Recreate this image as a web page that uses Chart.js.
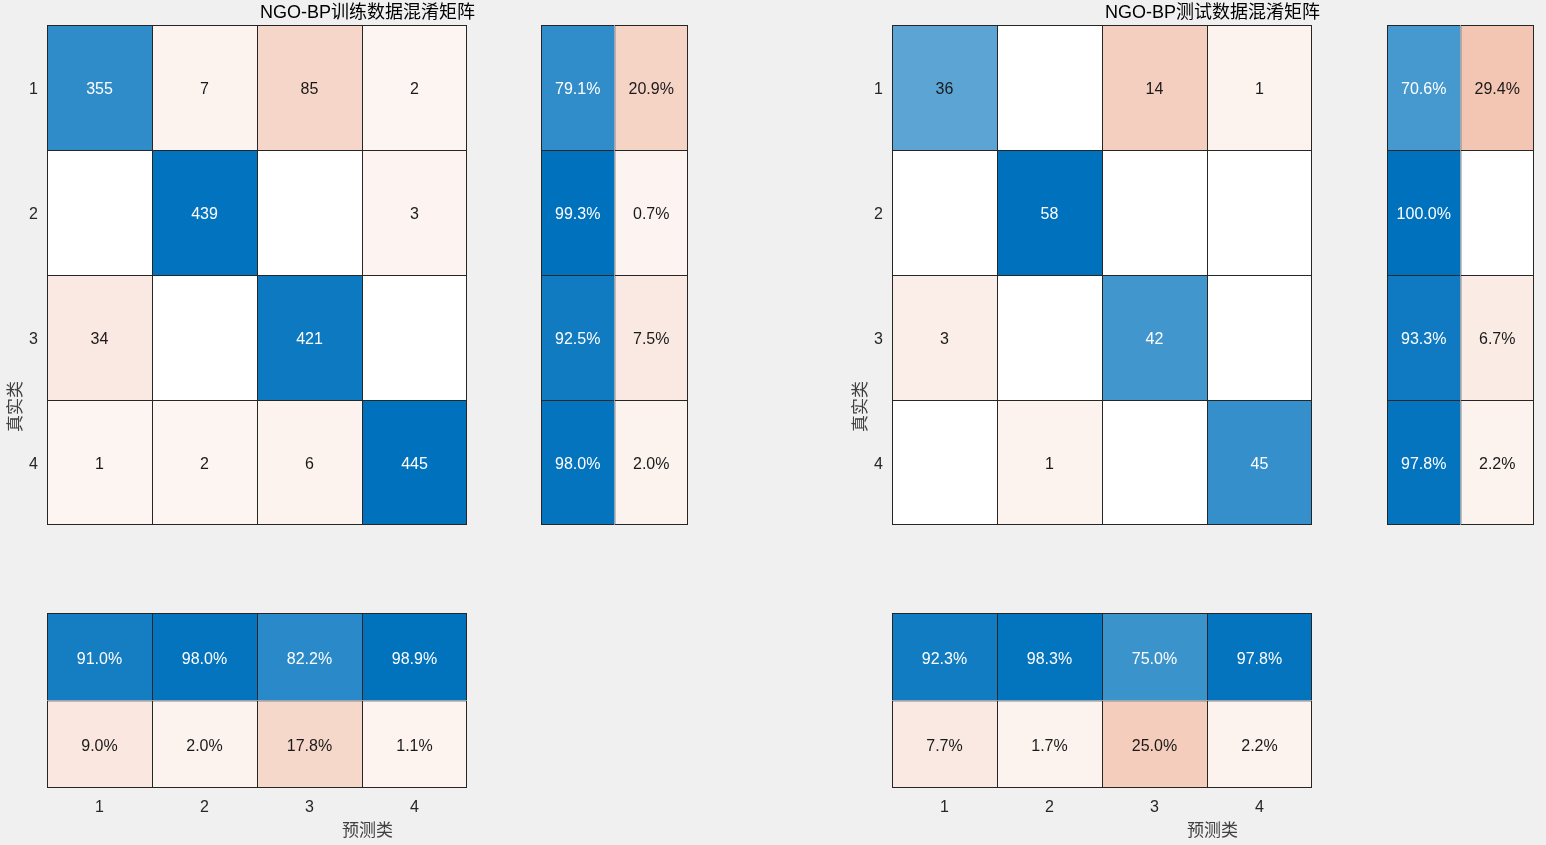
<!DOCTYPE html>
<html lang="zh">
<head>
<meta charset="utf-8">
<title>NGO-BP 混淆矩阵</title>
<script src="https://cdn.jsdelivr.net/npm/chart.js@4.4.0/dist/chart.umd.min.js"></script>
<style>
  html, body { margin: 0; padding: 0; background: #f0f0f0; overflow: hidden; }
  body { width: 1546px; height: 845px; position: relative; }
  canvas { position: absolute; }
</style>
</head>
<body>
<canvas id="trainFrame" width="735" height="845" style="left:0px;top:0px"></canvas>
<canvas id="trainMatrix" width="480" height="540" style="left:0px;top:0px"></canvas>
<canvas id="trainRowSum" width="200" height="540" style="left:500px;top:0px"></canvas>
<canvas id="trainColSum" width="480" height="285" style="left:0px;top:560px"></canvas>

<canvas id="testFrame" width="735" height="845" style="left:845px;top:0px"></canvas>
<canvas id="testMatrix" width="480" height="540" style="left:845px;top:0px"></canvas>
<canvas id="testRowSum" width="200" height="540" style="left:1346px;top:0px"></canvas>
<canvas id="testColSum" width="480" height="285" style="left:845px;top:560px"></canvas>

<script>
// Class labels (真实类 rows / 预测类 columns)
const classLabels = ['1', '2', '3', '4'];
const summaryLabels = ['正确', '错误'];

// Training data confusion matrix
const trainCounts = [
    [355, 7, 85, 2],
    [0, 439, 0, 3],
    [34, 0, 421, 0],
    [1, 2, 6, 445]
];
const trainRowCorrect = [79.1, 99.3, 92.5, 98.0];
const trainRowWrong = [20.9, 0.7, 7.5, 2.0];
const trainColCorrect = [91.0, 98.0, 82.2, 98.9];
const trainColWrong = [9.0, 2.0, 17.8, 1.1];

// Test data confusion matrix
const testCounts = [
    [36, 0, 14, 1],
    [0, 58, 0, 0],
    [3, 0, 42, 0],
    [0, 1, 0, 45]
];
const testRowCorrect = [70.6, 100.0, 93.3, 97.8];
const testRowWrong = [29.4, 0, 6.7, 2.2];
const testColCorrect = [92.3, 98.3, 75.0, 97.8];
const testColWrong = [7.7, 1.7, 25.0, 2.2];

// Colours (MATLAB style)
const BLUE = [0, 114, 189];
const ORANGE = [217, 83, 25];
const BORDER = '#262626';
const TICK_COLOR = '#262626';
const LATIN_FONT = '"Liberation Sans", Arial, "Noto Sans CJK SC", sans-serif';
const CJK_FONT = '"Noto Sans CJK SC", sans-serif';

function intensity(frac) {
    return 0.055 + 0.95 * Math.min(frac, 1);
}

function shade(base, frac) {
    if (frac <= 0) return '#ffffff';
    const t = intensity(frac);
    const c = base.map(v => Math.round(255 + (v - 255) * t));
    return `rgb(${c[0]}, ${c[1]}, ${c[2]})`;
}

function textColor(frac) {
    return intensity(frac) > 0.7 ? '#ffffff' : '#1a1a1a';
}

// one cell of a grid -> floating bar
function makeCell(xLabel, row, nRows, col, nCols, text, base, frac) {
    return {
        x: xLabel,
        y: [row + 0.5, row + 1.5],
        text: frac > 0 ? text : '',
        bg: shade(base, frac),
        fg: textColor(frac),
        bw: { top: 1, left: 1, right: col === nCols - 1 ? 1 : 0, bottom: row === nRows - 1 ? 1 : 0 }
    };
}

function matrixCells(counts) {
    const max = Math.max(...counts.flat());
    const cells = [];
    counts.forEach((row, r) => {
        row.forEach((v, c) => {
            const base = r === c ? BLUE : ORANGE;
            cells.push(makeCell(classLabels[c], r, counts.length, c, row.length, String(v), base, v / max));
        });
    });
    return cells;
}

function rowSummaryCells(correct, wrong) {
    const cells = [];
    correct.forEach((v, r) => {
        cells.push(makeCell(summaryLabels[0], r, correct.length, 0, 2, v.toFixed(1) + '%', BLUE, v / 100));
        cells.push(makeCell(summaryLabels[1], r, correct.length, 1, 2, wrong[r].toFixed(1) + '%', ORANGE, wrong[r] / 100));
    });
    return cells;
}

function colSummaryCells(correct, wrong) {
    const cells = [];
    correct.forEach((v, c) => {
        cells.push(makeCell(classLabels[c], 0, 2, c, correct.length, v.toFixed(1) + '%', BLUE, v / 100));
        cells.push(makeCell(classLabels[c], 1, 2, c, correct.length, wrong[c].toFixed(1) + '%', ORANGE, wrong[c] / 100));
    });
    return cells;
}

// Draw the numbers inside the cells
const cellTextPlugin = {
    id: 'cellText',
    afterDatasetsDraw(chart) {
        const ctx = chart.ctx;
        const cells = chart.data.datasets[0].data;
        const meta = chart.getDatasetMeta(0);
        ctx.save();
        ctx.font = '16px ' + LATIN_FONT;
        ctx.textAlign = 'center';
        ctx.textBaseline = 'middle';
        meta.data.forEach((bar, i) => {
            const cell = cells[i];
            if (!cell.text) return;
            ctx.fillStyle = cell.fg;
            ctx.fillText(cell.text, bar.x, (bar.y + bar.base) / 2 + 2.5);
        });
        ctx.restore();
    }
};

function drawGrid(canvasId, cells, xLabels, nRows, opts) {
    return new Chart(document.getElementById(canvasId), {
        type: 'bar',
        data: {
            labels: xLabels,
            datasets: [{
                data: cells,
                backgroundColor: cells.map(c => c.bg),
                borderColor: BORDER,
                borderWidth: ctx => (cells[ctx.dataIndex] || {}).bw || 1,
                borderSkipped: false,
                inflateAmount: 0,
                barPercentage: 1,
                categoryPercentage: 1
            }]
        },
        options: {
            responsive: false,
            animation: false,
            devicePixelRatio: 1,
            layout: { padding: opts.padding },
            plugins: {
                legend: { display: false },
                tooltip: { enabled: false },
                title: { display: false }
            },
            scales: {
                x: {
                    display: !!opts.showX,
                    ticks: { font: { family: LATIN_FONT, size: 16 }, color: TICK_COLOR, padding: 10 },
                    grid: { display: false, drawTicks: false },
                    border: { display: false },
                    afterFit: axis => {
                        if (!opts.showX) return;
                        axis.height = 57;
                        axis.paddingLeft = 0;
                        axis.paddingRight = 0;
                    }
                },
                y: {
                    type: 'linear',
                    display: !!opts.showY,
                    min: 0.5,
                    max: nRows + 0.5,
                    reverse: true,
                    afterBuildTicks: axis => {
                        axis.ticks = classLabels.map((l, i) => ({ value: i + 1 }));
                    },
                    ticks: {
                        font: { family: LATIN_FONT, size: 16 },
                        color: TICK_COLOR,
                        padding: 9,
                        labelOffset: 2.5,
                        callback: v => classLabels[v - 1]
                    },
                    grid: { display: false, drawTicks: false },
                    border: { display: false },
                    afterFit: axis => {
                        if (!opts.showY) return;
                        axis.width = 47;
                        axis.paddingTop = 0;
                        axis.paddingBottom = 0;
                    }
                }
            }
        },
        plugins: [cellTextPlugin]
    });
}

// Frame chart: only carries the title and the axis titles of one panel
function drawFrame(canvasId, title) {
    const hiddenAxis = {
        ticks: { display: false },
        grid: { display: false, drawTicks: false },
        border: { display: false }
    };
    return new Chart(document.getElementById(canvasId), {
        type: 'bar',
        data: { labels: [], datasets: [] },
        options: {
            responsive: false,
            animation: false,
            devicePixelRatio: 1,
            layout: { padding: { left: 0, right: 47, top: 0, bottom: 0 } },
            plugins: {
                legend: { display: false },
                tooltip: { enabled: false },
                title: { display: false }
            },
            scales: {
                // top axis only used to hold the panel title, centred over both grids
                top: {
                    ...hiddenAxis,
                    type: 'category',
                    position: 'top',
                    title: {
                        display: true,
                        text: title,
                        color: '#000000',
                        font: { family: LATIN_FONT, size: 18 },
                        padding: { top: 2, bottom: 1.4 }
                    }
                },
                x: {
                    ...hiddenAxis,
                    title: {
                        display: true,
                        text: '预测类',
                        color: '#404040',
                        font: { family: CJK_FONT, size: 17 },
                        padding: { top: 31.8, bottom: 4.8 }
                    }
                },
                y: {
                    ...hiddenAxis,
                    title: {
                        display: true,
                        text: '真实类',
                        color: '#404040',
                        font: { family: CJK_FONT, size: 17 },
                        padding: { top: 4.8, bottom: 21.8 }
                    }
                }
            }
        }
    });
}

// Training panel
drawFrame('trainFrame', 'NGO-BP训练数据混淆矩阵');
drawGrid('trainMatrix', matrixCells(trainCounts), classLabels, 4,
    { showY: true, padding: { left: 0, top: 25, right: 13, bottom: 15 } });
drawGrid('trainRowSum', rowSummaryCells(trainRowCorrect, trainRowWrong), summaryLabels, 4,
    { padding: { left: 41, top: 25, right: 12, bottom: 15 } });
drawGrid('trainColSum', colSummaryCells(trainColCorrect, trainColWrong), classLabels, 2,
    { showX: true, padding: { left: 47, top: 53, right: 13, bottom: 0 } });

// Test panel
drawFrame('testFrame', 'NGO-BP测试数据混淆矩阵');
drawGrid('testMatrix', matrixCells(testCounts), classLabels, 4,
    { showY: true, padding: { left: 0, top: 25, right: 13, bottom: 15 } });
drawGrid('testRowSum', rowSummaryCells(testRowCorrect, testRowWrong), summaryLabels, 4,
    { padding: { left: 41, top: 25, right: 12, bottom: 15 } });
drawGrid('testColSum', colSummaryCells(testColCorrect, testColWrong), classLabels, 2,
    { showX: true, padding: { left: 47, top: 53, right: 13, bottom: 0 } });
</script>
</body>
</html>
